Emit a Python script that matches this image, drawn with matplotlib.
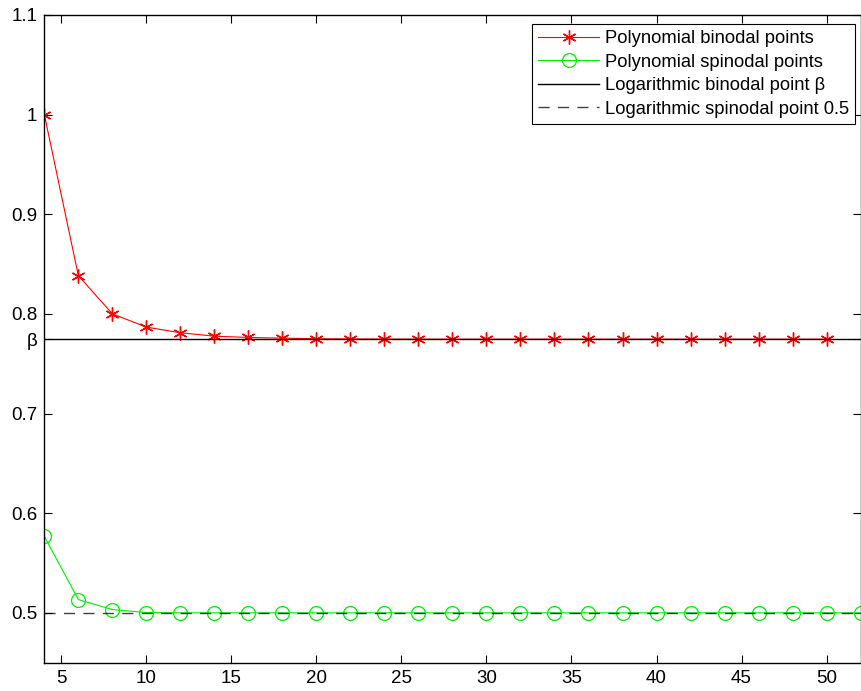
import numpy as np
import matplotlib
matplotlib.use('Agg')
from matplotlib import pyplot as plt

plt.rcParams['font.family'] = ['Liberation Sans', 'DejaVu Sans']

beta = 0.7746

# binodal (red) and spinodal (green) points
n_bin = [4, 6, 8, 10, 12, 14, 16, 18, 20, 22, 24, 26, 28, 30, 32, 34, 36, 38, 40, 42, 44, 46, 48, 50]
binodal = [1.0, 0.8383, 0.8000, 0.7867, 0.7810, 0.7776, 0.7763, 0.7756, 0.7750, 0.7748,
           0.7747, 0.7746, 0.7746, 0.7746, 0.7746, 0.7746, 0.7746, 0.7746, 0.7746, 0.7746,
           0.7746, 0.7746, 0.7746, 0.7746]
n_spin = [4, 6, 8, 10, 12, 14, 16, 18, 20, 22, 24, 26, 28, 30, 32, 34, 36, 38, 40, 42, 44, 46, 48, 50, 52]
spinodal = [0.5767, 0.5133, 0.5033, 0.5003, 0.5, 0.5, 0.5, 0.5, 0.5, 0.5, 0.5, 0.5, 0.5,
            0.5, 0.5, 0.5, 0.5, 0.5, 0.5, 0.5, 0.5, 0.5, 0.5, 0.5, 0.5]

yticks = [0.5, 0.6, 0.7, beta, 0.8, 0.9, 1.0, 1.1]
yticklabels = ['0.5', '0.6', '0.7', 'β', '0.8', '0.9', '1', '1.1']
xticks = [5, 10, 15, 20, 25, 30, 35, 40, 45, 50]

fig = plt.figure(figsize=(8.61, 6.91), dpi=100)
ax = fig.add_axes([0.0515, 0.041, 0.948, 0.9375])

# matlab style asterisk
ax.plot(n_bin, binodal, color='red', marker=(6, 2, 0), markersize=10, linewidth=0.8,
        markeredgewidth=1.0, label='Polynomial binodal points')
ax.plot(n_spin, spinodal, color='#00ee00', marker='o', markersize=10, markerfacecolor='none',
        linewidth=0.8, markeredgewidth=0.9, label='Polynomial spinodal points')
ax.axhline(beta, color='black', linewidth=1.0, label='Logarithmic binodal point β')
ax.axhline(0.5, color='black', linewidth=1.0, linestyle=(0, (8, 6)), alpha=0.75,
           label='Logarithmic spinodal point 0.5')

ax.set_xlim(4, 52)
ax.set_ylim(0.45, 1.1)
ax.set_xticks(xticks)
ax.set_yticks(yticks)
ax.set_yticklabels(yticklabels)
ax.tick_params(direction='in', top=True, right=True, labelsize=13.5, length=6, width=0.8, pad=5)
for s in ax.spines.values():
    s.set_linewidth(1.0)

leg = ax.legend(loc='upper right', fontsize=13.2, fancybox=False, framealpha=1,
                edgecolor='black', borderpad=0.32, labelspacing=0.36, handlelength=3.3,
                handletextpad=0.35, borderaxespad=0, bbox_to_anchor=(0.9935, 0.9855))
leg.get_frame().set_linewidth(0.8)

plt.savefig('out.png', dpi=100)
